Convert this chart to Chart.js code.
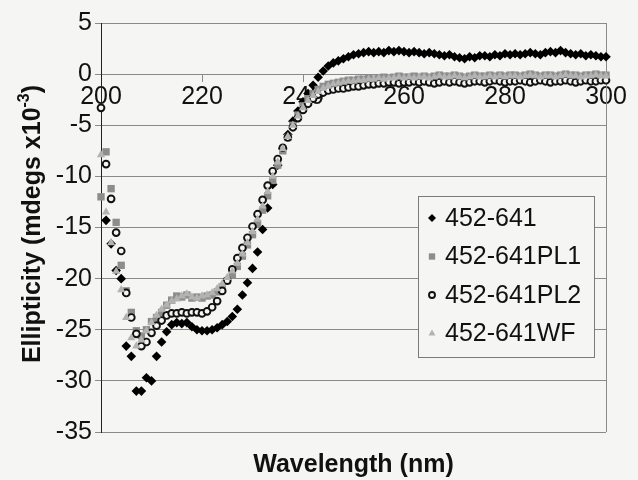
<!DOCTYPE html>
<html>
<head>
<meta charset="utf-8">
<script src="https://cdn.jsdelivr.net/npm/chart.js@4"></script>
<style>
  html, body { margin: 0; padding: 0; background: #f5f5f3; }
  #wrap { width: 638px; height: 480px; }
</style>
</head>
<body>
<div id="wrap"><canvas id="cd"></canvas></div>
<script>
// CD spectra, ellipticity (mdeg x10^-3) vs wavelength (nm)

const wavelengths = [
  200, 201, 202, 203, 204, 205, 206, 207, 208, 209,
  210, 211, 212, 213, 214, 215, 216, 217, 218, 219,
  220, 221, 222, 223, 224, 225, 226, 227, 228, 229,
  230, 231, 232, 233, 234, 235, 236, 237, 238, 239,
  240, 241, 242, 243, 244, 245, 246, 247, 248, 249,
  250, 251, 252, 253, 254, 255, 256, 257, 258, 259,
  260, 261, 262, 263, 264, 265, 266, 267, 268, 269,
  270, 271, 272, 273, 274, 275, 276, 277, 278, 279,
  280, 281, 282, 283, 284, 285, 286, 287, 288, 289,
  290, 291, 292, 293, 294, 295, 296, 297, 298, 299,
  300
];

const wt = [
  null, -14.3, -16.6, -19.2, -20.0, -26.6, -27.6, -31.0, -31.0, -29.7,
  -30.0, -27.6, -26.2, -25.2, -24.5, -24.3, -24.4, -24.3, -24.7, -25.0,
  -25.1, -25.1, -25.0, -24.8, -24.5, -24.2, -23.7, -23.0, -21.6, -20.4,
  -19.0, -17.4, -15.2, -13.1, -10.8, -8.9, -7.3, -5.9, -4.6, -3.6,
  -2.7, -1.9, -1.1, -0.3, 0.3, 0.8, 1.1, 1.3, 1.5, 1.7,
  1.9, 2.0, 2.1, 2.2, 2.1, 2.2, 2.1, 2.3, 2.2, 2.3,
  2.2, 2.1, 2.2, 2.1, 2.0, 2.1, 2.0, 1.9, 1.8, 1.9,
  1.7, 1.6, 1.5, 1.7, 1.6, 1.8, 1.8, 1.7, 1.9, 1.8,
  2.0, 1.9, 2.0, 1.9, 2.0, 2.1, 2.0, 1.9, 2.1, 2.2,
  2.1, 2.3, 2.1, 2.0, 1.9, 2.0, 1.8, 1.9, 1.8, 1.7,
  1.7
];

const pl1 = [
  -12.0, -7.6, -11.2, -14.5, -18.7, -21.2, -23.3, -25.1, -25.6, -25.0,
  -24.2, -23.8, -23.3, -22.6, -22.1, -21.7, -21.8, -21.6, -21.9, -21.8,
  -21.9, -21.7, -21.6, -21.3, -20.8, -20.2, -19.6, -18.8, -17.8, -16.7,
  -15.7, -14.6, -13.3, -11.9, -10.4, -8.9, -7.5, -6.2, -5.0, -4.0,
  -3.1, -2.4, -1.9, -1.5, -1.2, -1.0, -0.9, -0.8, -0.7, -0.6,
  -0.6, -0.5, -0.5, -0.4, -0.5, -0.4, -0.3, -0.4, -0.3, -0.2,
  -0.3, -0.3, -0.2, -0.3, -0.2, -0.3, -0.2, -0.1, -0.2, -0.2,
  -0.1, -0.2, -0.3, -0.2, -0.1, -0.2, -0.2, -0.1, -0.2, -0.1,
  -0.2, -0.1, -0.1, -0.2, -0.1, 0.0, -0.1, -0.2, -0.1, -0.1,
  -0.2, -0.1, 0.0, -0.1, -0.1, -0.2, -0.1, -0.1, 0.0, -0.1,
  -0.1
];

const pl2 = [
  -3.3, -8.8, -12.2, -15.5, -17.3, -21.4, -23.8, -25.4, -26.6, -26.2,
  -25.3, -24.6, -24.1, -23.6, -23.4, -23.4, -23.3, -23.4, -23.3, -23.3,
  -23.4, -23.2, -22.8, -22.2, -21.2, -20.2, -19.1, -18.0, -17.0, -16.0,
  -14.9, -13.7, -12.3, -10.9, -9.5, -8.3, -7.2, -6.2, -5.2, -4.3,
  -3.5, -2.9, -2.4, -2.0, -1.8, -1.6, -1.5, -1.4, -1.4, -1.3,
  -1.2, -1.2, -1.1, -1.0, -1.0, -0.9, -0.9, -0.8, -0.8, -0.9,
  -0.8, -0.8, -0.7, -0.8, -0.7, -0.8, -0.9, -0.8, -0.7, -0.8,
  -0.7, -0.8, -0.9, -0.8, -0.7, -0.7, -0.8, -0.7, -0.6, -0.7,
  -0.8, -0.7, -0.7, -0.6, -0.7, -0.8, -0.7, -0.6, -0.7, -0.8,
  -0.7, -0.7, -0.6, -0.7, -0.8, -0.7, -0.6, -0.7, -0.7, -0.6,
  -0.6
];

const wf = [
  -7.9, -13.5, -16.5, -19.3, -21.1, -23.8, -25.8, -26.6, -26.0, -25.1,
  -24.3, -23.6, -23.0, -22.6, -22.2, -22.0, -21.7, -21.5, -21.8, -21.9,
  -21.7, -21.6, -21.4, -21.0, -20.5, -19.9, -19.3, -18.5, -17.6, -16.5,
  -15.4, -14.2, -12.9, -11.5, -10.0, -8.6, -7.3, -6.1, -5.0, -4.1,
  -3.3, -2.6, -2.1, -1.7, -1.4, -1.2, -1.0, -0.9, -0.8, -0.7,
  -0.7, -0.6, -0.6, -0.5, -0.5, -0.4, -0.5, -0.4, -0.4, -0.3,
  -0.4, -0.3, -0.4, -0.3, -0.3, -0.4, -0.3, -0.2, -0.3, -0.3,
  -0.2, -0.3, -0.4, -0.3, -0.2, -0.3, -0.3, -0.2, -0.3, -0.2,
  -0.3, -0.2, -0.2, -0.3, -0.2, -0.1, -0.2, -0.3, -0.2, -0.2,
  -0.3, -0.2, -0.1, -0.2, -0.2, -0.3, -0.2, -0.2, -0.1, -0.2,
  -0.2
];

const seriesNames = ['452-641', '452-641PL1', '452-641PL2', '452-641WF'];

const BG = '#f5f5f3';
const GRID = '#8a8a8a';
const FONT = '"Liberation Sans", Arial, Helvetica, sans-serif';

Chart.defaults.font.family = FONT;
Chart.defaults.color = '#111';

// box legend inside the plot, like the Excel one
const boxLegend = {
    id: 'boxLegend',
    afterDraw(chart) {
        const { ctx, chartArea } = chart;
        const x0 = chartArea.right - 188, y0 = chartArea.top + 173;
        const w = 176, h = 161;
        ctx.save();
        ctx.fillStyle = BG;
        ctx.fillRect(x0, y0, w, h);
        ctx.strokeStyle = '#7a7a7a';
        ctx.lineWidth = 1;
        ctx.strokeRect(x0 + 0.5, y0 + 0.5, w, h);
        chart.data.datasets.forEach((ds, i) => {
            const cy = y0 + 22 + i * 38.5;
            ctx.fillStyle = ds.backgroundColor;
            ctx.strokeStyle = ds.borderColor;
            ctx.lineWidth = ds.borderWidth;
            Chart.helpers.drawPoint(ctx, {
                pointStyle: ds.pointStyle,
                radius: ds.legendRadius,
                borderWidth: ds.borderWidth
            }, x0 + 14, cy);
            ctx.font = '25px ' + FONT;
            ctx.textBaseline = 'middle';
            ctx.textAlign = 'left';
            ctx.fillStyle = '#111';
            ctx.fillText(ds.label, x0 + 27, cy + 1);
        });
        ctx.restore();
    }
};

// axis titles (y title needs a superscript) and right edge of the plot
const axisTitles = {
    id: 'axisTitles',
    beforeDatasetsDraw(chart) {
        const { ctx, chartArea } = chart;
        ctx.save();
        ctx.strokeStyle = GRID;
        ctx.lineWidth = 1;
        ctx.beginPath();
        ctx.moveTo(Math.round(chartArea.right) + 0.5, chartArea.top);
        ctx.lineTo(Math.round(chartArea.right) + 0.5, chartArea.bottom);
        ctx.stroke();
        ctx.restore();
    },
    afterDraw(chart) {
        const { ctx, chartArea } = chart;
        ctx.save();
        ctx.fillStyle = '#111';
        ctx.textBaseline = 'alphabetic';

        // x title
        ctx.font = 'bold 25px ' + FONT;
        ctx.textAlign = 'center';
        ctx.fillText('Wavelength (nm)', (chartArea.left + chartArea.right) / 2, 472);

        // y title, rotated
        const main = 'Ellipticity (mdegs x10';
        const sup = '-3';
        const tail = ')';
        const bigFont = 'bold 25px ' + FONT;
        const smallFont = 'bold 16px ' + FONT;
        ctx.font = bigFont;
        const wMain = ctx.measureText(main).width;
        const wTail = ctx.measureText(tail).width;
        ctx.font = smallFont;
        const wSup = ctx.measureText(sup).width;
        const total = wMain + wSup + wTail;
        ctx.translate(40, 224);
        ctx.rotate(-Math.PI / 2);
        ctx.textAlign = 'left';
        let x = -total / 2;
        ctx.font = bigFont;
        ctx.fillText(main, x, 0);
        x += wMain;
        ctx.font = smallFont;
        ctx.fillText(sup, x, -11);
        x += wSup;
        ctx.font = bigFont;
        ctx.fillText(tail, x, 0);
        ctx.restore();
    }
};

new Chart(document.getElementById('cd'), {
    type: 'line',
    data: {
        labels: wavelengths,
        datasets: [
            {
                label: seriesNames[0], data: wt, order: 3,
                pointStyle: 'rectRot', pointRadius: 4.8, legendRadius: 4,
                backgroundColor: '#000', borderColor: '#000', borderWidth: 0
            },
            {
                label: seriesNames[1], data: pl1, order: 2,
                pointStyle: 'rect', pointRadius: 5.2, legendRadius: 4.5,
                backgroundColor: '#8d8d8d', borderColor: '#8d8d8d', borderWidth: 0
            },
            {
                label: seriesNames[2], data: pl2, order: 1,
                pointStyle: 'circle', pointRadius: 3.4, legendRadius: 3,
                backgroundColor: BG, borderColor: '#111', borderWidth: 1.9
            },
            {
                label: seriesNames[3], data: wf, order: 0,
                pointStyle: 'triangle', pointRadius: 4.8, legendRadius: 4,
                backgroundColor: '#b3b3b3', borderColor: '#b3b3b3', borderWidth: 0
            }
        ].map(ds => ({ ...ds, showLine: false, clip: false, pointHoverRadius: ds.pointRadius }))
    },
    options: {
        responsive: true,
        maintainAspectRatio: false,
        animation: false,
        events: [],
        layout: { padding: { left: 0, right: 32, top: 23, bottom: 48 } },
        plugins: {
            legend: { display: false },
            tooltip: { enabled: false }
        },
        scales: {
            x: {
                type: 'linear',
                position: { y: 0 },
                min: 200, max: 300,
                grid: { drawOnChartArea: false, drawTicks: true, tickLength: 7, color: GRID },
                border: { display: true, color: GRID },
                ticks: { stepSize: 20, padding: 1, color: '#111', font: { size: 25 }, maxRotation: 0 }
            },
            y: {
                min: -35, max: 5,
                afterFit: s => { s.width = 101; },
                grid: { color: GRID, tickLength: 6 },
                border: { display: true, color: '#222', width: 1 },
                ticks: { stepSize: 5, padding: 3, color: '#111', font: { size: 25 } }
            }
        }
    },
    plugins: [axisTitles, boxLegend]
});
</script>
</body>
</html>
